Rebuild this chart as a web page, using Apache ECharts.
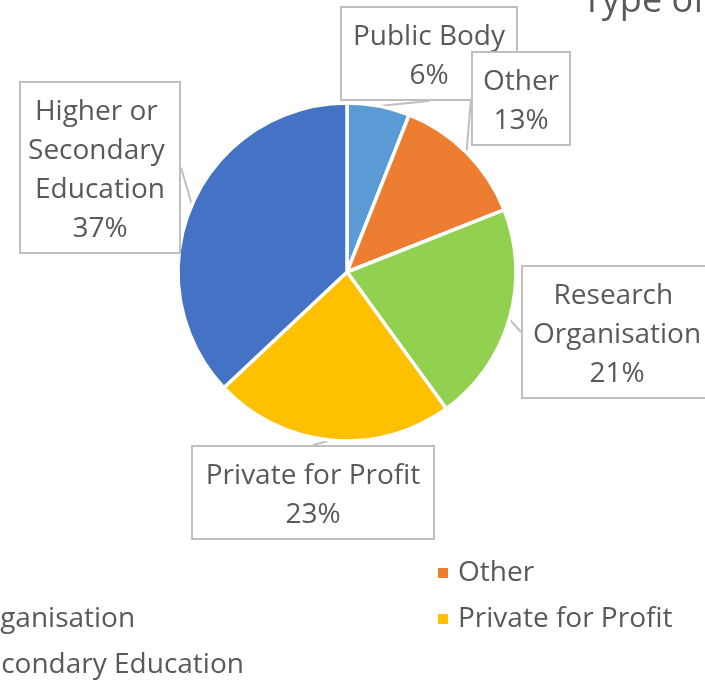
<!DOCTYPE html>
<html>
<head>
<meta charset="utf-8">
<script src="https://cdn.jsdelivr.net/npm/echarts@6/dist/echarts.min.js"></script>
<style>
  html, body { margin: 0; padding: 0; background: #fff; }
  #chart { width: 705px; height: 681px; }
</style>
</head>
<body>
<div id="chart"></div>
<script>
// Organisation types and their share of participants (%)
const categories = ['Public Body', 'Other', 'Research Organisation', 'Private for Profit', 'Higher or Secondary Education'];
const shares = [6, 13, 21, 23, 37];
const titleText = 'Type of Organisation';

// Legend is laid out in two columns
const legendLeftColumn = ['Public Body', 'Research Organisation', 'Higher or Secondary Education'];
const legendRightColumn = ['Other', 'Private for Profit'];

// Styling
const sliceColors = ['#5B9BD5', '#ED7D31', '#92D050', '#FFC000', '#4472C4'];
const textGrey = '#595959';
const frameGrey = '#BFBFBF';
const FONT = '"Open Sans", "Noto Sans", sans-serif';

// Callout boxes: centre x, top y, box width
const callouts = [
  [429, 8, 174],
  [521, 53, 96],
  [617, 267, 188],
  [313, 447, 240],
  [100, 83, 158]
];

const pieData = categories.map((name, i) => ({
  name: name,
  value: shares[i],
  itemStyle: { color: sliceColors[i] },
  label: { width: callouts[i][2] }
}));

const legendCommon = {
  orient: 'vertical',
  icon: 'rect',
  itemWidth: 12,
  itemHeight: 12,
  itemGap: 16,
  selectedMode: false,
  textStyle: {
    fontFamily: FONT,
    fontSize: 28,
    lineHeight: 30,
    color: textGrey,
    padding: [0, 0, 0, 4]
  }
};

const chart = echarts.init(document.getElementById('chart'), null, { renderer: 'canvas' });

chart.setOption({
  backgroundColor: '#ffffff',
  animation: false,
  title: {
    text: titleText,
    left: 582,
    top: -16,
    padding: 0,
    textStyle: {
      fontFamily: FONT,
      fontSize: 36,
      fontWeight: 'normal',
      lineHeight: 36,
      color: textGrey
    }
  },
  legend: [
    Object.assign({}, legendCommon, { data: legendLeftColumn, left: -182, top: 558, padding: 0 }),
    Object.assign({}, legendCommon, { data: legendRightColumn, left: 436, top: 558, padding: 0 })
  ],
  series: [{
    type: 'pie',
    center: [347, 272],
    radius: 169,
    startAngle: 90,
    clockwise: true,
    avoidLabelOverlap: false,
    itemStyle: { borderColor: '#ffffff', borderWidth: 3.5 },
    emphasis: { disabled: true },
    label: {
      show: true,
      position: 'outside',
      formatter: '{b}\n{d}%',
      fontFamily: FONT,
      fontSize: 28,
      lineHeight: 39,
      color: textGrey,
      align: 'center',
      overflow: 'break',
      backgroundColor: '#ffffff',
      borderColor: frameGrey,
      borderWidth: 2,
      padding: [10, 0, 3, 0]
    },
    labelLine: {
      show: true,
      length: 8,
      length2: 0,
      lineStyle: { color: frameGrey, width: 2 }
    },
    labelLayout: function (params) {
      const c = callouts[params.dataIndex];
      return { x: c[0], y: c[1], align: 'center', verticalAlign: 'top' };
    },
    data: pieData
  }]
});
</script>
</body>
</html>
